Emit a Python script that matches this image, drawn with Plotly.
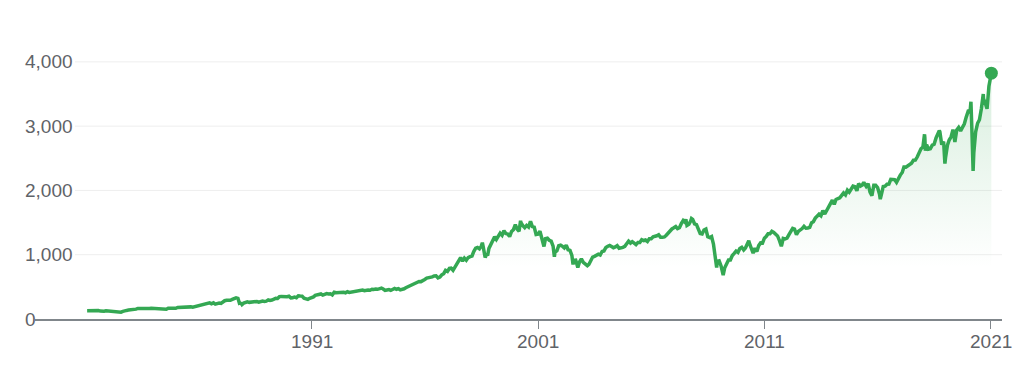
import pandas as pd
import plotly.graph_objects as go

# Month-end closes, Jan 1981 .. Dec 2020
monthly_close = [
    129.6, 131.3, 136.0, 132.8, 132.6, 131.2, 130.9, 122.8, 116.2, 121.9, 126.4, 122.6,  # 1981
    120.4, 113.1, 112.0, 116.4, 111.9, 109.6, 107.1, 119.5, 120.4, 133.7, 138.5, 140.6,  # 1982
    145.3, 148.1, 153.0, 164.4, 162.4, 168.1, 162.6, 164.4, 166.1, 163.6, 166.4, 164.9,  # 1983
    163.4, 157.1, 159.2, 160.1, 150.6, 153.2, 150.7, 166.7, 166.1, 166.1, 163.6, 167.2,  # 1984
    179.6, 181.2, 180.7, 179.8, 189.6, 191.9, 190.9, 188.6, 182.1, 189.8, 202.2, 211.3,  # 1985
    211.8, 226.9, 238.9, 235.5, 247.4, 250.8, 236.1, 252.9, 231.3, 244.0, 249.2, 242.2,  # 1986
    274.1, 284.2, 291.7, 288.4, 290.1, 304.0, 318.7, 329.8, 321.8, 251.8, 230.3, 247.1,  # 1987
    257.1, 267.8, 258.9, 261.3, 262.2, 273.5, 272.0, 261.5, 271.9, 279.0, 273.7, 277.7,  # 1988
    297.5, 288.9, 294.9, 309.6, 320.5, 318.0, 346.1, 351.5, 349.2, 340.4, 346.0, 353.4,  # 1989
    329.1, 331.9, 339.9, 330.8, 361.2, 358.0, 356.2, 322.6, 306.1, 304.0, 322.2, 330.2,  # 1990
    343.9, 367.1, 375.2, 375.3, 389.8, 371.2, 387.8, 395.4, 387.9, 392.5, 375.2, 417.1,  # 1991
    408.8, 412.7, 403.7, 415.0, 415.4, 408.1, 424.2, 414.0, 417.8, 418.7, 431.4, 435.7,  # 1992
    438.8, 443.4, 451.7, 440.2, 450.2, 451.0, 448.1, 463.6, 458.9, 467.8, 461.8, 466.5,  # 1993
    481.6, 467.1, 445.8, 450.9, 456.5, 444.3, 458.3, 475.5, 462.7, 472.4, 453.7, 459.3,  # 1994
    470.4, 487.4, 500.7, 514.7, 533.4, 544.8, 562.1, 561.9, 584.4, 581.5, 605.4, 615.9,  # 1995
    636.0, 640.4, 645.5, 654.2, 669.1, 670.6, 640.0, 652.0, 687.3, 705.3, 757.0, 740.7,  # 1996
    786.2, 790.8, 757.1, 801.3, 848.3, 885.1, 954.3, 899.5, 947.3, 914.6, 955.4, 970.4,  # 1997
    980.3, 1049.3, 1101.8, 1111.8, 1090.8, 1133.8, 1120.7, 957.3, 1017.0, 1098.7, 1163.6, 1229.2,  # 1998
    1279.6, 1238.3, 1286.4, 1335.2, 1301.8, 1372.7, 1328.7, 1320.4, 1282.7, 1362.9, 1389.0, 1469.3,  # 1999
    1394.5, 1366.4, 1498.6, 1452.4, 1420.6, 1454.6, 1430.8, 1517.7, 1436.5, 1429.4, 1315.2, 1320.3,  # 2000
    1366.0, 1239.9, 1160.3, 1249.5, 1255.8, 1224.4, 1211.2, 1133.6, 1040.9, 1059.8, 1139.5, 1148.1,  # 2001
    1130.2, 1106.7, 1147.4, 1076.9, 1067.1, 989.8, 911.6, 916.1, 815.3, 885.8, 936.3, 879.8,  # 2002
    855.7, 841.2, 848.2, 916.9, 963.6, 974.5, 990.3, 1008.0, 996.0, 1050.7, 1058.2, 1111.9,  # 2003
    1131.1, 1144.9, 1126.2, 1107.3, 1120.7, 1140.8, 1101.7, 1104.2, 1114.6, 1130.2, 1173.8, 1211.9,  # 2004
    1181.3, 1203.6, 1180.6, 1156.9, 1191.5, 1191.3, 1234.2, 1220.3, 1228.8, 1207.0, 1249.5, 1248.3,  # 2005
    1280.1, 1280.7, 1294.8, 1310.6, 1270.1, 1270.2, 1276.7, 1303.8, 1335.9, 1377.9, 1400.6, 1418.3,  # 2006
    1438.2, 1406.8, 1420.9, 1482.4, 1530.6, 1503.4, 1455.3, 1474.0, 1527.0, 1549.4, 1481.1, 1468.4,  # 2007
    1378.6, 1330.6, 1322.7, 1385.6, 1400.4, 1280.0, 1267.4, 1282.8, 1166.4, 968.8, 896.2, 903.3,  # 2008
    825.9, 735.1, 797.9, 872.8, 919.1, 919.3, 987.5, 1020.6, 1057.1, 1036.2, 1095.6, 1115.1,  # 2009
    1073.9, 1104.5, 1169.4, 1186.7, 1089.4, 1030.7, 1101.6, 1049.3, 1141.2, 1183.3, 1180.6, 1257.6,  # 2010
    1286.1, 1327.2, 1325.8, 1363.6, 1345.2, 1320.6, 1292.3, 1218.9, 1131.4, 1253.3, 1247.0, 1257.6,  # 2011
    1312.4, 1365.7, 1408.5, 1397.9, 1310.3, 1362.2, 1379.3, 1406.6, 1440.7, 1412.2, 1416.2, 1426.2,  # 2012
    1498.1, 1514.7, 1569.2, 1597.6, 1630.7, 1606.3, 1685.7, 1633.0, 1681.6, 1756.5, 1805.8, 1848.4,  # 2013
    1782.6, 1859.5, 1872.3, 1884.0, 1923.6, 1960.2, 1930.7, 2003.4, 1972.3, 2018.1, 2067.6, 2058.9,  # 2014
    1995.0, 2104.5, 2067.9, 2085.5, 2107.4, 2063.1, 2103.8, 1972.2, 1920.0, 2079.4, 2080.4, 2043.9,  # 2015
    1940.2, 1932.2, 2059.7, 2065.3, 2096.9, 2098.9, 2173.6, 2171.0, 2168.3, 2126.2, 2199.0, 2238.8,  # 2016
    2278.9, 2363.6, 2362.7, 2384.2, 2411.8, 2423.4, 2470.3, 2471.7, 2519.4, 2575.3, 2647.6, 2673.6,  # 2017
    2823.8, 2713.8, 2640.9, 2648.1, 2705.3, 2718.4, 2816.3, 2901.5, 2914.0, 2711.7, 2760.2, 2506.9,  # 2018
    2704.1, 2784.5, 2834.4, 2945.8, 2752.1, 2941.8, 2980.4, 2926.5, 2976.7, 3037.6, 3141.0, 3230.8,  # 2019
    3225.5, 2954.2, 2584.6, 2912.4, 3044.3, 3100.3, 3271.1, 3500.3, 3363.0, 3270.0, 3621.6, 3756.1,  # 2020
]
first_month_end = "1981-01-31"

# Weekly closes at notable highs / lows (between month ends)
extra_dates = [
    "1987-08-21", "1987-10-23", "1987-12-04", "1990-10-12", "1998-07-17", "1998-10-09",
    "2000-03-24", "2000-09-01", "2001-04-06", "2001-09-21", "2002-07-19", "2002-10-04",
    "2003-03-07", "2007-07-13", "2007-10-12", "2008-11-21", "2009-03-06", "2010-04-23",
    "2010-07-02", "2011-04-29", "2011-10-07", "2015-05-22", "2015-08-28", "2016-02-12",
    "2018-01-26", "2018-02-09", "2018-09-21", "2018-12-21", "2020-02-14", "2020-03-20",
    "2020-09-04", "2020-10-30", "2021-01-08",
]
extra_values = [
    335.9, 248.2, 223.9, 300.0, 1186.8, 984.4,
    1527.5, 1520.8, 1128.4, 965.8, 847.8, 800.6,
    828.9, 1552.5, 1561.8, 800.0, 683.4, 1217.3,
    1022.6, 1363.6, 1155.5, 2126.1, 1988.9, 1864.8,
    2872.9, 2619.6, 2929.7, 2416.6, 3380.2, 2304.9,
    3426.9, 3270.0, 3824.7,
]

y_ticks = [0, 1000, 2000, 3000, 4000]
x_tick_dates = ["1991-01-01", "2001-01-01", "2011-01-01", "2021-01-01"]
x_tick_labels = ["1991", "2001", "2011", "2021"]

monthly = pd.DataFrame({
    "date": pd.date_range(first_month_end, periods=len(monthly_close), freq="ME"),
    "close": monthly_close,
})
extra = pd.DataFrame({"date": pd.to_datetime(extra_dates), "close": extra_values})
df = pd.concat([monthly, extra]).drop_duplicates("date").sort_values("date")

GREEN = "#34a853"
TEXT = "#5f6368"
FONT = "Liberation Sans, Arial, sans-serif"

fig = go.Figure()
fig.add_trace(go.Scatter(
    x=df["date"], y=df["close"], mode="lines",
    line=dict(color=GREEN, width=3.5),
    fill="tozeroy",
    fillgradient=dict(
        type="vertical", start=0, stop=4000,
        colorscale=[[0, "rgba(52,168,83,0)"], [0.2, "rgba(52,168,83,0)"],
                    [1, "rgba(52,168,83,0.2)"]],
    ),
    hoverinfo="skip", showlegend=False,
))
fig.add_trace(go.Scatter(
    x=df["date"].iloc[-1:], y=df["close"].iloc[-1:], mode="markers",
    marker=dict(color=GREEN, size=13), hoverinfo="skip", showlegend=False,
))

W, H = 1024, 372
L, R, T, B = 35, 22, 49, 53
pw = W - L - R
ph = H - T - B

shapes = []
for v in y_ticks[1:]:
    shapes.append(dict(type="line", xref="paper", yref="y", x0=(75 - L) / pw, x1=1,
                       y0=v, y1=v, line=dict(color="#eeeeee", width=1), layer="below"))

annotations = []
for v in y_ticks:
    annotations.append(dict(xref="paper", yref="y", x=(23 - L) / pw, y=v,
                            text=f"{v:,}", showarrow=False, xanchor="left", yanchor="middle",
                            font=dict(family=FONT, size=19, color=TEXT)))
for d, lab in zip(x_tick_dates, x_tick_labels):
    annotations.append(dict(xref="x", yref="paper", x=d, y=-22 / ph,
                            text=lab, showarrow=False, xanchor="center", yanchor="middle",
                            font=dict(family=FONT, size=19, color=TEXT)))

fig.update_layout(
    width=W, height=H,
    margin=dict(l=L, r=R, t=T, b=B),
    paper_bgcolor="white", plot_bgcolor="white",
    shapes=shapes, annotations=annotations,
    xaxis=dict(
        type="date", range=["1978-10-13", "2021-06-29"],
        showgrid=False, zeroline=False,
        showline=True, linecolor="#80868b", linewidth=2,
        ticks="outside", ticklen=8, tickwidth=1, tickcolor="#80868b",
        tickvals=x_tick_dates, showticklabels=False,
    ),
    yaxis=dict(range=[0, 4200], showgrid=False, zeroline=False,
               showticklabels=False, showline=False),
)

fig.write_html("out.html")
